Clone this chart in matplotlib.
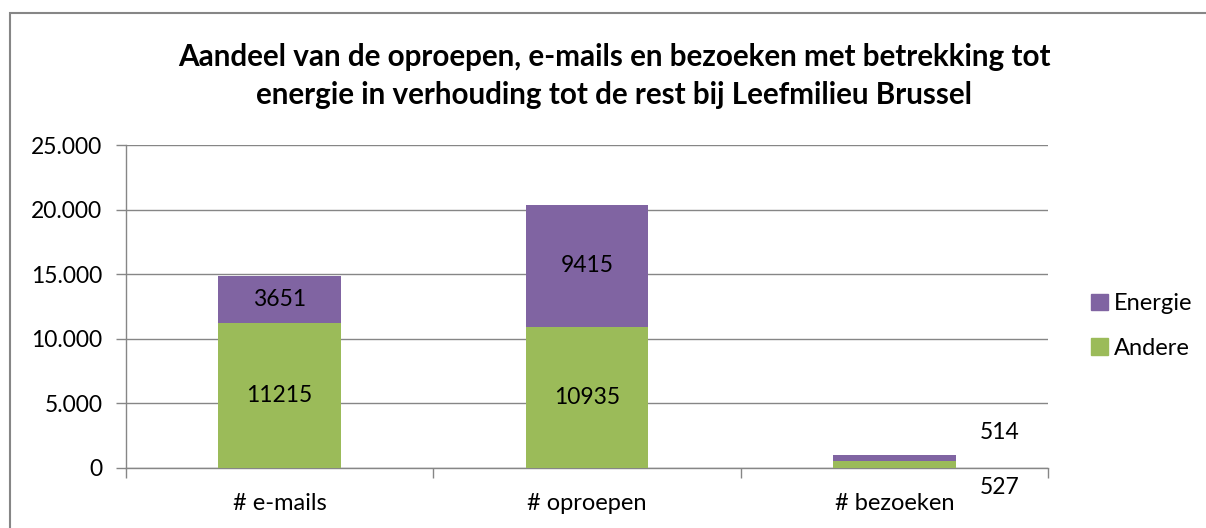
import matplotlib
matplotlib.use("Agg")
import matplotlib.pyplot as plt
from matplotlib.patches import Rectangle, Patch
from matplotlib.ticker import FuncFormatter

categories = ["# e-mails", "# oproepen", "# bezoeken"]
andere = [11215, 10935, 527]
energie = [3651, 9415, 514]

green = "#9BBB59"
purple = "#8064A2"
grey = "#868686"

plt.rcParams["font.family"] = ["Lato", "DejaVu Sans"]

fig = plt.figure(figsize=(12.06, 5.28), dpi=100)
ax = fig.add_axes([126 / 1206, 60 / 528, 922 / 1206, 323 / 528])

x = list(range(len(categories)))
ax.bar(x, andere, width=0.4, color=green, zorder=3)
ax.bar(x, energie, width=0.4, bottom=andere, color=purple, zorder=3)

ax.set_xlim(-0.5, 2.5)
ax.set_ylim(0, 25000)
ax.set_yticks(range(0, 25001, 5000))
ax.yaxis.set_major_formatter(FuncFormatter(lambda v, p: f"{int(v):,}".replace(",", ".")))
ax.set_xticks(x)
ax.set_xticklabels(categories)
ax.set_xticks([-0.5, 0.5, 1.5, 2.5], minor=True)
ax.tick_params(axis="x", which="major", length=0, pad=18, labelsize=17)
ax.tick_params(axis="x", which="minor", length=7, color=grey, width=1)
ax.tick_params(axis="y", length=7, color=grey, width=1, pad=10, labelsize=16.5)

ax.grid(axis="y", color=grey, linewidth=1, zorder=0)
for s in ["top", "right"]:
    ax.spines[s].set_visible(False)
for s in ["left", "bottom"]:
    ax.spines[s].set_color(grey)
    ax.spines[s].set_linewidth(1)

# data labels
for i in range(2):
    ax.text(i, andere[i] / 2, str(andere[i]), ha="center", va="center", fontsize=16.5, zorder=4)
    ax.text(i, andere[i] + energie[i] / 2, str(energie[i]), ha="center", va="center",
            fontsize=16.5, zorder=4)
ax.annotate(str(energie[2]), xy=(2, andere[2] + energie[2] / 2), xytext=(76, 18),
            textcoords="offset points", ha="center", va="center", fontsize=16.5,
            annotation_clip=False)
ax.annotate(str(andere[2]), xy=(2, andere[2] / 2), xytext=(76, -16.5),
            textcoords="offset points", ha="center", va="center", fontsize=16.5,
            annotation_clip=False)

fig.text(614 / 1206, 1 - 76 / 528,
         "Aandeel van de oproepen, e-mails en bezoeken met betrekking tot\n"
         "energie in verhouding tot de rest bij Leefmilieu Brussel",
         ha="center", va="center", fontsize=21.3, fontweight="bold", linespacing=1.45)

handles = [Patch(color=purple, label="Energie"), Patch(color=green, label="Andere")]
fig.legend(handles=handles, loc="center left", bbox_to_anchor=(1070 / 1206, 1 - 326 / 528),
           frameon=False, fontsize=17, handlelength=0.7, handleheight=0.7,
           handletextpad=0.25, labelspacing=1.0)

# outer chart border
fig.patches.append(Rectangle((10 / 1206, -0.1), 1.2, 1.1 - 13 / 528, transform=fig.transFigure,
                             fill=False, edgecolor=grey, linewidth=1.5))

fig.savefig("out.png", dpi=100)
